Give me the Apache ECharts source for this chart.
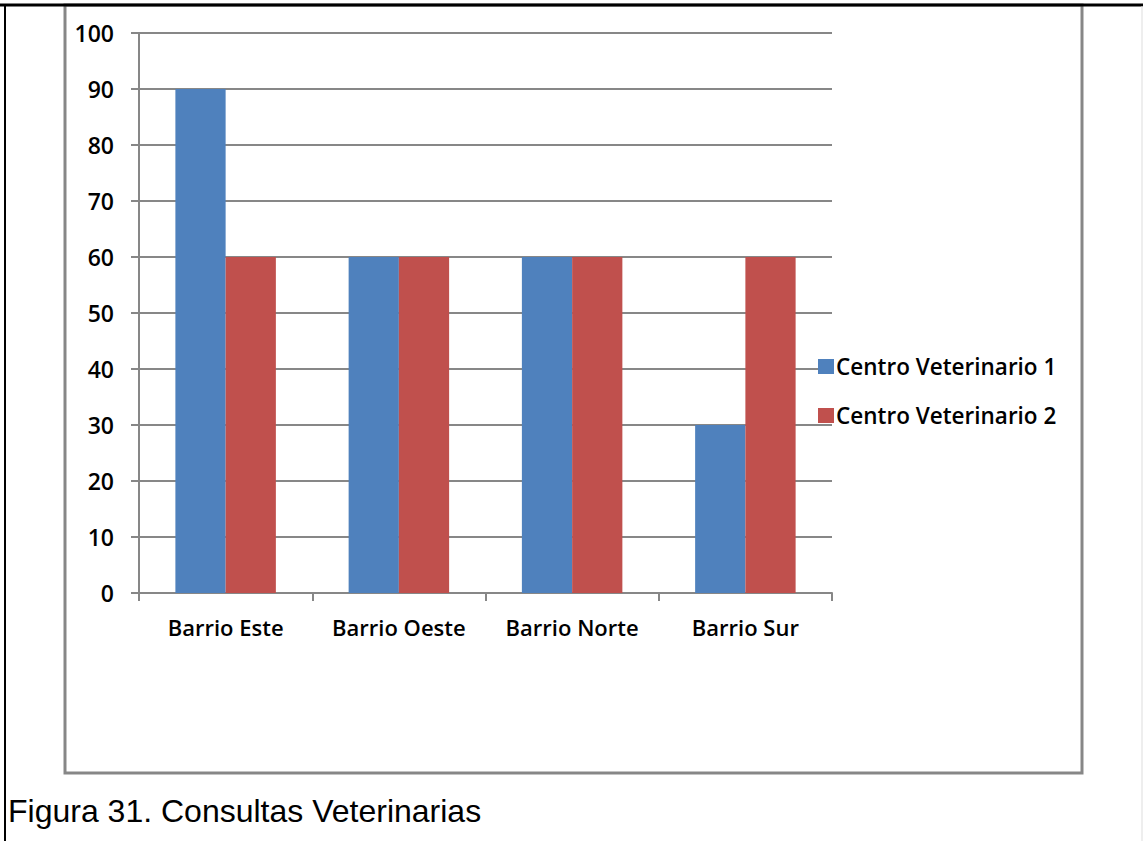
<!DOCTYPE html>
<html>
<head>
<meta charset="utf-8">
<script src="https://cdn.jsdelivr.net/npm/echarts@6/dist/echarts.min.js"></script>
<style>
html,body{margin:0;padding:0;background:#fff;}
#chart{width:1143px;height:841px;}
</style>
</head>
<body>
<div id="chart"></div>
<script>
const categories = ['Barrio Este', 'Barrio Oeste', 'Barrio Norte', 'Barrio Sur'];
const seriesNames = ['Centro Veterinario 1', 'Centro Veterinario 2'];
const vet1 = [90, 60, 60, 30];
const vet2 = [60, 60, 60, 60];
const yTicks = { min: 0, max: 100, interval: 10 };
const caption = 'Figura 31. Consultas Veterinarias';

const labelFont = { fontFamily: 'Open Sans', fontWeight: 600, fontSize: 22, color: '#000' };
const gray = '#878787';

const chart = echarts.init(document.getElementById('chart'), null, { renderer: 'svg' });
chart.setOption({
  animation: false,
  backgroundColor: '#fff',
  color: ['#4F81BD', '#C0504D'],
  grid: { left: 139, right: 311, top: 33, bottom: 248, containLabel: false },
  legend: {
    orient: 'vertical',
    left: 813,
    top: 350,
    icon: 'rect',
    itemWidth: 16,
    itemHeight: 15,
    itemGap: 26,
    textStyle: Object.assign({}, labelFont, { fontSize: 22.5, lineHeight: 22, padding: [0, 0, 0, -3] }),
    data: seriesNames
  },
  xAxis: {
    type: 'category',
    data: categories,
    axisLine: { lineStyle: { color: gray, width: 2 } },
    axisTick: { show: true, interval: 0, length: 8, alignWithLabel: false, lineStyle: { color: gray, width: 2 } },
    axisLabel: Object.assign({}, labelFont, { interval: 0, margin: 23 }),
    splitLine: { show: false }
  },
  yAxis: {
    type: 'value',
    min: yTicks.min,
    max: yTicks.max,
    interval: yTicks.interval,
    axisLine: { show: true, lineStyle: { color: gray, width: 2 } },
    axisTick: { show: true, length: 8, lineStyle: { color: gray, width: 2 } },
    axisLabel: Object.assign({}, labelFont, { fontSize: 23, margin: 25 }),
    splitLine: { show: true, lineStyle: { color: gray, width: 2 } }
  },
  series: [
    { name: seriesNames[0], type: 'bar', data: vet1, barGap: '0%', barCategoryGap: '42%' },
    { name: seriesNames[1], type: 'bar', data: vet2, barGap: '0%', barCategoryGap: '42%' }
  ],
  graphic: [
    { type: 'rect', silent: true, z: -1, shape: { x: 65, y: 5, width: 1017, height: 768 },
      style: { fill: 'none', stroke: gray, lineWidth: 3 } },
    { type: 'line', silent: true, shape: { x1: 0, y1: 5, x2: 1143, y2: 5 },
      style: { stroke: '#000', lineWidth: 3 } },
    { type: 'line', silent: true, shape: { x1: 5, y1: 4, x2: 5, y2: 841 },
      style: { stroke: '#000', lineWidth: 2 } },
    { type: 'line', silent: true, shape: { x1: 1142, y1: 6, x2: 1142, y2: 841 },
      style: { stroke: '#dddddd', lineWidth: 1 } },
    { type: 'text', silent: true, left: 8, top: 795,
      style: { text: caption, fontFamily: 'Liberation Sans, Arial', fontSize: 32, fill: '#000' } }
  ]
});
</script>
</body>
</html>
